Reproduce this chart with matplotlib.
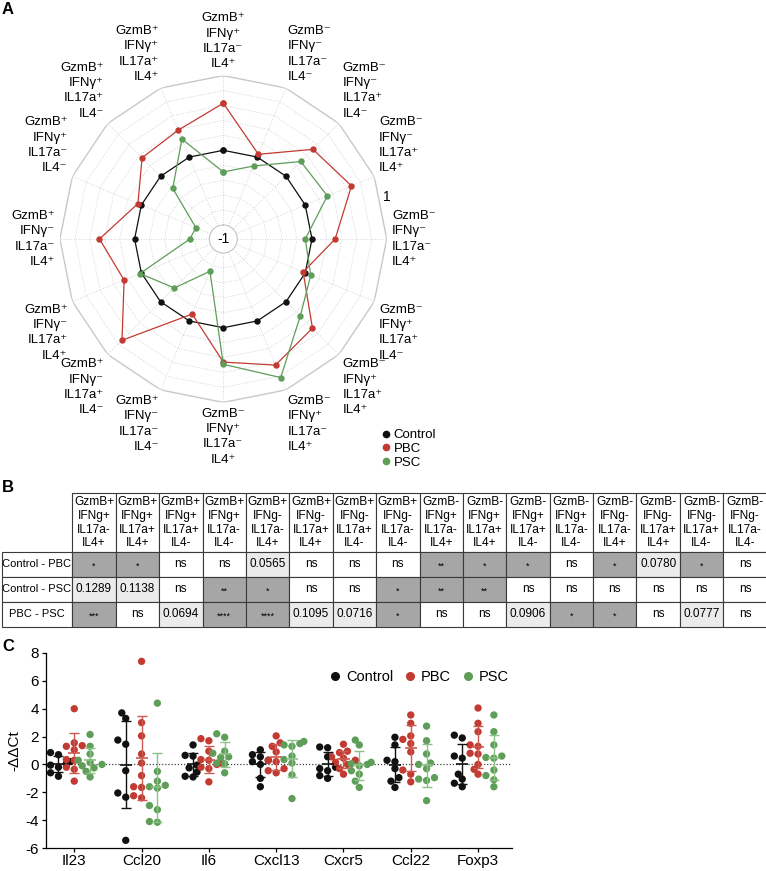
import numpy as np
import matplotlib
matplotlib.use('Agg')
import matplotlib.pyplot as plt
from matplotlib import font_manager
from matplotlib.lines import Line2D
from matplotlib.patches import Rectangle

names = {f.name for f in font_manager.fontManager.ttflist}
base_font = 'Liberation Sans' if 'Liberation Sans' in names else 'DejaVu Sans'
narrow_font = 'Liberation Sans Narrow' if 'Liberation Sans Narrow' in names else base_font
plt.rcParams['font.family'] = [base_font, 'DejaVu Sans']

# ---------------- data ----------------
# panel A (radar), counter-clockwise from the top
radar_labels = [
    'GzmB+ IFNγ+ IL17a- IL4+', 'GzmB+ IFNγ+ IL17a+ IL4+', 'GzmB+ IFNγ+ IL17a+ IL4-',
    'GzmB+ IFNγ+ IL17a- IL4-', 'GzmB+ IFNγ- IL17a- IL4+', 'GzmB+ IFNγ- IL17a+ IL4+',
    'GzmB+ IFNγ- IL17a+ IL4-', 'GzmB+ IFNγ- IL17a- IL4-', 'GzmB- IFNγ+ IL17a- IL4+',
    'GzmB- IFNγ+ IL17a- IL4+', 'GzmB- IFNγ+ IL17a+ IL4+', 'GzmB- IFNγ+ IL17a+ IL4-',
    'GzmB- IFNγ- IL17a- IL4+', 'GzmB- IFNγ- IL17a+ IL4+', 'GzmB- IFNγ- IL17a+ IL4-',
    'GzmB- IFNγ- IL17a- IL4-',
]
ctrl_radar = [0.0, 0.0, 0.0, 0.0, 0.0, 0.0, 0.0, 0.0, 0.0, 0.0, 0.0, 0.0, 0.0, 0.0, 0.0, 0.0]
pbc_radar = [0.63, 0.39, 0.35, 0.05, 0.47, 0.25, 0.73, -0.10, 0.46, 0.64, 0.50, -0.03, 0.31, 0.67, 0.51, 0.04]
psc_radar = [-0.29, 0.26, -0.23, -0.79, -0.74, 0.02, -0.26, -0.72, 0.49, 0.82, 0.27, 0.08, -0.09, 0.32, 0.28, -0.13]

# panel B (table)
table_cols = [
    'GzmB+\nIFNg+\nIL17a-\nIL4+', 'GzmB+\nIFNg+\nIL17a+\nIL4+', 'GzmB+\nIFNg+\nIL17a+\nIL4-',
    'GzmB+\nIFNg+\nIL17a-\nIL4-', 'GzmB+\nIFNg-\nIL17a-\nIL4+', 'GzmB+\nIFNg-\nIL17a+\nIL4+',
    'GzmB+\nIFNg-\nIL17a+\nIL4-', 'GzmB+\nIFNg-\nIL17a-\nIL4-', 'GzmB-\nIFNg+\nIL17a-\nIL4+',
    'GzmB-\nIFNg+\nIL17a+\nIL4+', 'GzmB-\nIFNg+\nIL17a+\nIL4-', 'GzmB-\nIFNg+\nIL17a-\nIL4-',
    'GzmB-\nIFNg-\nIL17a-\nIL4+', 'GzmB-\nIFNg-\nIL17a+\nIL4+', 'GzmB-\nIFNg-\nIL17a+\nIL4-',
    'GzmB-\nIFNg-\nIL17a-\nIL4-',
]
table_rows = ['Control - PBC', 'Control - PSC', 'PBC - PSC']
row_ctrl_pbc = ['*', '*', 'ns', 'ns', '0.0565', 'ns', 'ns', 'ns', '**', '*', '*', 'ns', '*', '0.0780', '*', 'ns']
row_ctrl_psc = ['0.1289', '0.1138', 'ns', '**', '*', 'ns', 'ns', '*', '**', '**', 'ns', 'ns', 'ns', 'ns', 'ns', 'ns']
row_pbc_psc = ['***', 'ns', '0.0694', '****', '****', '0.1095', '0.0716', '*', 'ns', 'ns', '0.0906', '*', '*', 'ns', '0.0777', 'ns']

# panel C (qPCR)
genes = ['Il23', 'Ccl20', 'Il6', 'Cxcl13', 'Cxcr5', 'Ccl22', 'Foxp3']
ctrl_pts = [
    [0.85, 0.7, 0.2, 0.05, -0.05, -0.2, -0.6, -0.85],
    [3.7, 3.3, 1.75, 1.45, -0.45, -2.05, -2.35, -5.45],
    [1.4, 0.65, 0.6, -0.05, -0.25, -0.55, -0.85, -0.9],
    [1.05, 0.7, 0.55, 0.3, 0.2, 0.0, -1.0, -1.6],
    [1.25, 1.2, 0.55, -0.2, -0.3, -0.45, -0.8, -1.0],
    [1.95, 1.4, 0.3, 0.2, -0.3, -0.95, -1.2, -1.65],
    [2.1, 1.9, 0.6, 0.45, -0.7, -1.05, -1.35, -1.6],
]
pbc_pts = [
    [4.0, 1.55, 1.35, 1.3, 1.05, 0.35, 0.3, -0.2, -0.35, -1.2],
    [7.4, 3.0, 2.05, 0.75, 0.1, -0.8, -1.6, -1.65, -2.25, -2.4],
    [1.85, 1.7, 0.95, 0.35, 0.3, 0.1, 0.0, -0.2, -0.3, -1.25],
    [2.05, 1.55, 1.3, 0.9, 0.3, 0.2, -0.3, -0.45, -0.6],
    [1.45, 0.95, 0.85, 0.55, 0.45, 0.3, 0.15, 0.0, -0.3, -0.7],
    [3.55, 2.95, 2.05, 1.8, 1.5, 0.9, -0.4, -0.7, -1.25],
    [4.05, 2.95, 2.35, 1.4, 1.3, 0.8, 0.75, 0.0, -0.35, -0.7],
]
psc_pts = [
    [2.15, 1.3, 0.75, 0.3, 0.15, 0.0, -0.1, -0.25, -0.5, -0.9],
    [4.4, -0.5, -1.2, -1.5, -1.6, -1.7, -2.95, -3.25, -4.1, -4.15],
    [2.2, 1.95, 0.95, 0.8, 0.55, 0.5, 0.1, 0.05, -0.6],
    [1.65, 1.5, 1.4, 1.3, 0.6, 0.35, 0.1, -0.75, -2.45],
    [1.75, 1.4, 0.15, 0.05, 0.0, -0.1, -0.45, -0.7, -1.2, -1.65],
    [2.75, 1.7, 0.75, 0.1, 0.0, -0.3, -0.95, -1.05, -1.15, -2.6],
    [3.55, 2.35, 1.4, 0.6, 0.5, 0.45, -0.4, -0.8, -1.1, -1.6],
]

BLACK, RED, GREEN = '#111111', '#c23a32', '#5e9e58'

W, H = 766, 871
fig = plt.figure(figsize=(W / 100, H / 100), dpi=100)


def fx(px):
    return px / W


def fy(py):
    return 1 - py / H


def sup(s):
    out = []
    for tok in s.split():
        out.append(tok[:-1] + {'+': '\u207a', '-': '\u207b'}[tok[-1]])
    return '\n'.join(out)


# ---------------- panel A ----------------
cx, cy, R = 223.3, 239.0, 163.4
ax = fig.add_axes([fx(cx - R), fy(cy + R), fx(2 * R), (2 * R) / H], projection='polar')
ax.set_theta_offset(np.pi / 2)
ax.set_ylim(-1, 1)
ax.set_rorigin(-1 - 2 * 14 / (R - 14))
ax.grid(False)
ax.set_xticks([])
ax.set_yticks([])
ax.spines['polar'].set_visible(False)
# the inner spine is switched on again at draw time, so style it as the "-1" ring
ax.spines['inner'].set_color('#c4c4c4')
ax.spines['inner'].set_linewidth(0.8)
ax.patch.set_alpha(0)

n = len(radar_labels)
theta = np.arange(n) * 2 * np.pi / n
theta_c = np.append(theta, theta[0])
for v in np.arange(-0.8, 0.81, 0.2):
    ax.plot(theta_c, np.full(n + 1, v), color='#c8c8c8', lw=0.6, ls=(0, (1, 2)))
for t in theta:
    ax.plot([t, t], [-1, 1], color='#c8c8c8', lw=0.6, ls=(0, (1, 2)))
ax.plot(theta_c, np.ones(n + 1), color='#c8c8c8', lw=1.0)
ax.text(0, -1.187, '-1', ha='center', va='center', fontsize=10)

for vals, col in [(ctrl_radar, BLACK), (pbc_radar, RED), (psc_radar, GREEN)]:
    v = np.append(vals, vals[0])
    ax.plot(theta_c, v, color=col, lw=0.9, marker='o', markersize=3.6, zorder=3)

for t, lab in zip(theta, radar_labels):
    ang = t + np.pi / 2
    c, s = np.cos(ang), np.sin(ang)
    ha = 'center' if abs(c) < 0.1 else ('left' if c > 0 else 'right')
    va = 'center' if abs(s) < 0.1 else ('bottom' if s > 0 else 'top')
    ax.text(t, 1.07, sup(lab), ha=ha, va=va, fontsize=9.5, linespacing=1.38,
            multialignment=ha if ha != 'center' else 'center')
ax.text(np.deg2rad(14.5 - 90), 1.07, '1', ha='center', va='center', fontsize=10)

fig.legend(handles=[Line2D([], [], marker='o', ls='', color=c, markersize=4.5) for c in (BLACK, RED, GREEN)],
           labels=['Control', 'PBC', 'PSC'], loc='upper left', bbox_to_anchor=(fx(382), fy(429)),
           frameon=False, handlelength=0.6, handletextpad=0.3, labelspacing=0.12, fontsize=9.5,
           borderpad=0, borderaxespad=0)

fig.text(fx(2), fy(2), 'A', fontsize=12, fontweight='bold', va='top', ha='left')
fig.text(fx(2), fy(480), 'B', fontsize=12, fontweight='bold', va='top', ha='left')
fig.text(fx(2), fy(639), 'C', fontsize=12, fontweight='bold', va='top', ha='left')

# ---------------- panel B ----------------
axt = fig.add_axes([0, 0, 1, 1])
axt.set_xlim(0, W)
axt.set_ylim(H, 0)
axt.axis('off')
axt.patch.set_alpha(0)

x0, cw, lab_x = 72.3, 43.4, 1.5
y_head, y_body, rh = 492.7, 551.7, 25.0
DARK, LIGHT = '#a6a6a6', '#ebebeb'
edge = '#3a3a3a'

for j, txt in enumerate(table_cols):
    xl = x0 + j * cw
    axt.add_patch(Rectangle((xl, y_head), cw, y_body - y_head, fc='white', ec=edge, lw=0.8))
    axt.text(xl + cw / 2, (y_head + y_body) / 2 + 0.5, txt, ha='center', va='center',
             fontsize=8.6, linespacing=1.19, family=narrow_font)

for i, (rname, row) in enumerate(zip(table_rows, [row_ctrl_pbc, row_ctrl_psc, row_pbc_psc])):
    yt = y_body + i * rh
    axt.add_patch(Rectangle((lab_x, yt), x0 - lab_x, rh, fc='white', ec=edge, lw=0.8))
    axt.text((lab_x + x0) / 2, yt + rh / 2, rname, ha='center', va='center', fontsize=8,
             family=narrow_font)
    for j, val in enumerate(row):
        xl = x0 + j * cw
        if val.startswith('*'):
            fc = DARK
        elif val == 'ns':
            fc = 'white'
        else:
            fc = LIGHT
        axt.add_patch(Rectangle((xl, yt), cw, rh, fc=fc, ec=edge, lw=0.8))
        if val.startswith('*'):
            axt.text(xl + cw / 2, yt + rh / 2 + 2.5, val, ha='center', va='center', fontsize=6.5,
                     family=narrow_font)
        else:
            axt.text(xl + cw / 2, yt + rh / 2, val, ha='center', va='center', fontsize=8.5,
                     family=narrow_font)

# ---------------- panel C ----------------
ax_l, ax_r, ax_t, ax_b = 46.0, 511.7, 653.0, 848.0
axc = fig.add_axes([fx(ax_l), fy(ax_b), fx(ax_r - ax_l), (ax_b - ax_t) / H])
axc.set_xlim(-0.42, len(genes) - 0.5)
axc.set_ylim(-6, 8)
xs_px = (ax_r - ax_l) / (len(genes) - 0.08)
ys_px = (ax_b - ax_t) / 14.0


def swarm(vals, xc, diam=6.6):
    vals = np.asarray(vals, float)
    order = np.argsort(vals)
    placed = []
    xs = np.zeros(len(vals))
    for i in order:
        y = vals[i] * ys_px
        for k in [0, -1, 1, -2, 2, -3, 3]:
            x = k * diam * 0.6
            if all((x - px) ** 2 + (y - py) ** 2 >= (diam * 0.95) ** 2 for px, py in placed):
                break
        placed.append((x, y))
        xs[i] = xc + x / xs_px
    return xs


off = 0.235
groups = [(ctrl_pts, -off, BLACK, '#111111'), (pbc_pts, 0.0, RED, '#cc5a50'), (psc_pts, off, GREEN, '#8cc086')]
axc.axhline(0, color='#444444', lw=0.9, ls=(0, (1, 1.5)), zorder=1)
for pts, o, col, ecol in groups:
    for g, vals in enumerate(pts):
        xc = g + o
        axc.scatter(swarm(vals, xc), vals, s=28, color=col, edgecolors='none', zorder=3)
        m = np.mean(vals)
        sd = np.std(vals, ddof=1)
        axc.errorbar(xc, m, yerr=sd, color=ecol, lw=1.0, capsize=3.5, capthick=1.0, zorder=4)
        axc.hlines(m, xc - 0.09, xc + 0.09, color=ecol, lw=1.2, zorder=4)

axc.set_xticks(range(len(genes)))
axc.set_xticklabels(genes, fontsize=11, family=narrow_font)
axc.set_yticks(np.arange(-6, 9, 2))
axc.set_yticklabels([str(v) for v in range(-6, 9, 2)], fontsize=11, family=narrow_font)
axc.tick_params(axis='both', length=3, width=0.9)
axc.tick_params(axis='x', pad=1)
axc.tick_params(axis='y', pad=2)
for sp in ['top', 'right']:
    axc.spines[sp].set_visible(False)
for sp in ['left', 'bottom']:
    axc.spines[sp].set_linewidth(0.9)
axc.set_ylabel('-ΔΔCt', fontsize=11, family=narrow_font, labelpad=3)
axc.legend(handles=[Line2D([], [], marker='o', ls='', color=c, markersize=5.5) for c in (BLACK, RED, GREEN)],
           labels=['Control', 'PBC', 'PSC'], loc='center left', bbox_to_anchor=(fx(330), fy(677)),
           bbox_transform=fig.transFigure, ncol=3, frameon=False, handlelength=0.7,
           handletextpad=0.4, columnspacing=0.8, borderpad=0, borderaxespad=0,
           prop={'family': narrow_font, 'size': 10.5})

fig.savefig('out.png', dpi=100)
